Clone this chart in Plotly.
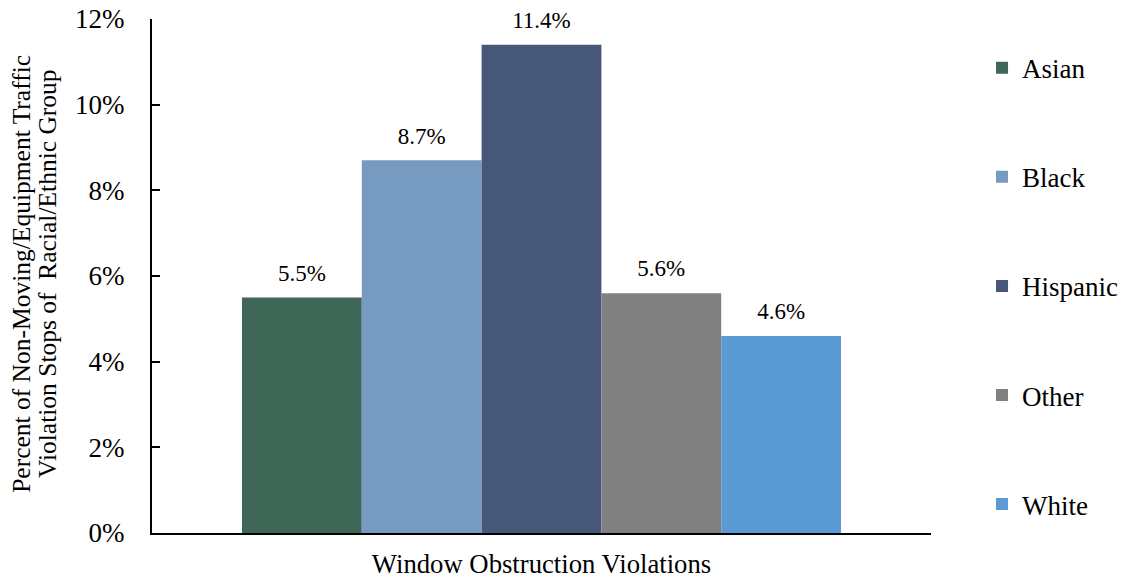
import plotly.graph_objects as go

category = ["Window Obstruction Violations"]
groups = ["Asian", "Black", "Hispanic", "Other", "White"]
values = [5.5, 8.7, 11.4, 5.6, 4.6]
colors = ["#3F6757", "#779AC0", "#46577A", "#808080", "#5B9BD5"]
ytitle_lines = ["Percent of Non-Moving/Equipment Traffic",
                "Violation Stops of  Racial/Ethnic Group"]

FONT = "Liberation Serif"

fig = go.Figure()
for g, v, c in zip(groups, values, colors):
    fig.add_trace(go.Bar(
        x=category, y=[v / 100], name=g, marker=dict(color=c, line=dict(width=0)),
        offsetgroup=g, legendgroup=g, hoverinfo="skip",
    ))
for g, v in zip(groups, values):
    fig.add_trace(go.Scatter(
        x=category, y=[v / 100], mode="markers+text", text=[f"{v:.1f}%"],
        textposition="top center", offsetgroup=g, legendgroup=g, showlegend=False,
        marker=dict(size=16, color="rgba(0,0,0,0)"), cliponaxis=False,
        textfont=dict(family=FONT, size=23, color="#000000"), hoverinfo="skip",
    ))

fig.update_layout(
    width=1123, height=578,
    margin=dict(l=152, r=192, t=19, b=45, autoexpand=False),
    paper_bgcolor="white", plot_bgcolor="white",
    font=dict(family=FONT, size=27, color="#000000"),
    barmode="group", bargap=0.231, bargroupgap=0,
    scattermode="group", scattergap=0.231,
    showlegend=True,
    legend=dict(x=1.0655, xanchor="left", y=0.952, yanchor="top",
                font=dict(family=FONT, size=27, color="#000000"),
                tracegroupgap=71, bgcolor="rgba(0,0,0,0)"),
    xaxis=dict(showline=True, linecolor="#000000", linewidth=2, ticks="",
               tickfont=dict(family=FONT, size=26.7), showgrid=False,
               ticklabelstandoff=6, automargin=False),
    yaxis=dict(range=[0, 0.12], dtick=0.02, tickformat=".0%", showline=True,
               linecolor="#000000", linewidth=2, ticks="inside", ticklen=8,
               tickcolor="#000000", tickwidth=2, showgrid=False, zeroline=False,
               ticklabelstandoff=20, automargin=False, ticklabeloverflow="allow",
               tickfont=dict(family=FONT, size=27)),
)

xs = [-0.1670, -0.1335]
for t, xp in zip(ytitle_lines, xs):
    fig.add_annotation(text=t, xref="paper", yref="paper", x=xp, y=0.504,
                       textangle=-90, showarrow=False, xanchor="center", yanchor="middle",
                       font=dict(family=FONT, size=25.5, color="#000000"))

fig.write_html(
    "out.html",
    config={"displayModeBar": False},
    post_script="document.body.style.margin='0px';document.body.style.overflow='hidden';",
)
